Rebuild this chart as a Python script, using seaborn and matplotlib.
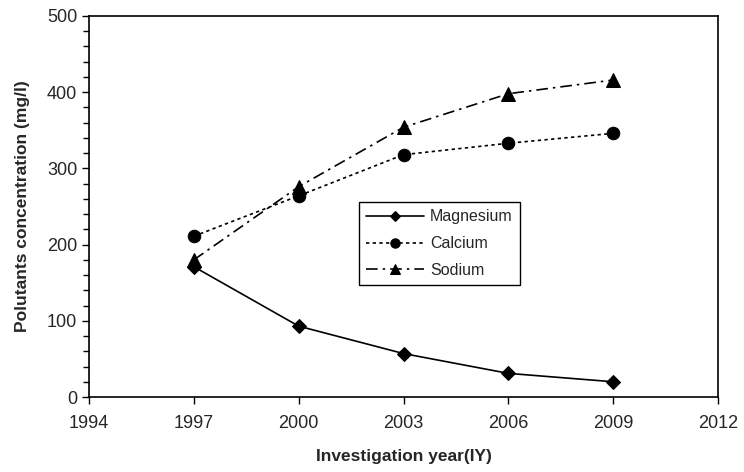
import numpy as np
import pandas as pd
from matplotlib import pyplot as plt
import seaborn as sns

years = [1997, 2000, 2003, 2006, 2009]
magnesium = [171, 93, 57, 31, 20]
calcium = [211, 264, 318, 333, 346]
sodium = [180, 276, 354, 398, 416]

series = {"Magnesium": magnesium, "Calcium": calcium, "Sodium": sodium}
styles = {
    "Magnesium": dict(marker="D", linestyle="-", markersize=7),
    "Calcium": dict(marker="o", linestyle=(0, (2, 2)), markersize=9),
    "Sodium": dict(marker="^", linestyle=(0, (7, 3, 1.5, 3)), markersize=10),
}

sns.set_style("ticks")
plt.rcParams["font.family"] = ["Liberation Sans", "DejaVu Sans"]

fig = plt.figure(figsize=(7.44, 4.72), dpi=100)
ax = fig.add_axes([89 / 744, 1 - 397 / 472, 629 / 744, 381 / 472])

for name, vals in series.items():
    df = pd.DataFrame({"year": years, "value": vals})
    sns.lineplot(data=df, x="year", y="value", ax=ax, color="black", linewidth=1.2,
                 markeredgecolor="black", label=name, **styles[name])

ax.set_xlim(1994, 2012)
ax.set_ylim(0, 500)
ax.set_xticks(np.arange(1994, 2013, 3))
ax.set_yticks(np.arange(0, 501, 100))
ax.set_yticks(np.arange(0, 501, 20), minor=True)
ax.tick_params(axis="both", which="major", labelsize=13, direction="out", length=5, width=1, color="black")
ax.tick_params(axis="y", which="minor", direction="out", length=4, width=1, color="black")
ax.tick_params(axis="x", pad=8)
for s in ax.spines.values():
    s.set_color("black")
    s.set_linewidth(1.2)

ax.set_xlabel("Investigation year(IY)", fontsize=12.5, fontweight="bold", labelpad=12)
ax.set_ylabel("Polutants concentration (mg/l)", fontsize=12.5, fontweight="bold", labelpad=12)

leg = ax.legend(loc="upper left", bbox_to_anchor=(0.429, 0.512), borderaxespad=0,
                fontsize=11.5, frameon=True, fancybox=False, handlelength=3.6,
                borderpad=0.45, labelspacing=0.75, handletextpad=0.4, markerscale=0.75)
leg.get_frame().set_edgecolor("black")
leg.get_frame().set_linewidth(1.0)
leg.get_frame().set_alpha(1)

fig.savefig("out.png", dpi=100)
